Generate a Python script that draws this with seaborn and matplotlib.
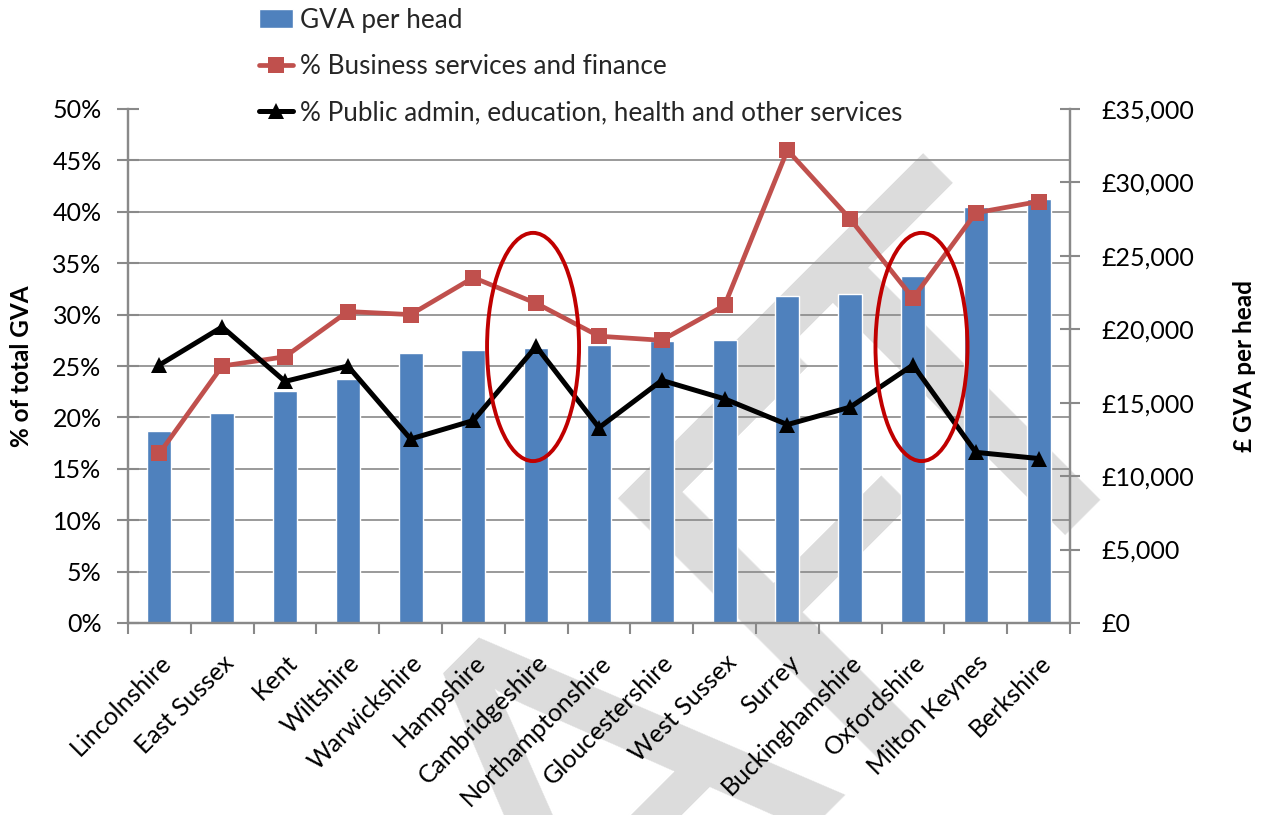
import numpy as np
import matplotlib.pyplot as plt
import seaborn as sns
from matplotlib.patches import Ellipse
from matplotlib.ticker import FixedLocator

# Counties, ordered by GVA per head
categories = ['Lincolnshire', 'East Sussex', 'Kent', 'Wiltshire', 'Warwickshire',
              'Hampshire', 'Cambridgeshire', 'Northamptonshire', 'Gloucestershire',
              'West Sussex', 'Surrey', 'Buckinghamshire', 'Oxfordshire',
              'Milton Keynes', 'Berkshire']
gva_per_head = [13100, 14300, 15800, 16600, 18400, 18600, 18750, 18950, 19200,
                19300, 22250, 22400, 23600, 28300, 28850]
business_finance_pct = [16.5, 25.0, 25.9, 30.3, 30.0, 33.6, 31.1, 27.9, 27.5,
                        30.9, 46.0, 39.3, 31.6, 39.9, 41.0]
public_services_pct = [25.1, 28.8, 23.5, 25.0, 17.9, 19.7, 26.9, 19.0, 23.6,
                       21.8, 19.3, 21.0, 25.1, 16.6, 16.0]
highlighted = ['Cambridgeshire', 'Oxfordshire']

pct_ticks = list(range(0, 51, 5))
gva_ticks = list(range(0, 35001, 5000))

sns.set_theme(style='white')
plt.rcParams['font.family'] = ['Lato', 'DejaVu Sans']

grey = '#898989'
n = len(categories)
W, H = 1265, 815

fig = plt.figure(figsize=(W / 100, H / 100), dpi=100)
ax_gva = fig.add_axes([128 / W, 1 - 623 / H, 942 / W, 514 / H])
ax_gva.patch.set_alpha(0)
ax_pct = ax_gva.twinx()

# Watermark sits behind the axes; "T" is placed on its own so the letters sit tighter
wm = dict(rotation=45, rotation_mode='anchor', ha='right', va='baseline',
          fontsize=372, color='#dcdcdc', zorder=-1)
renderer = fig.canvas.get_renderer()
probe = fig.text(0, 0, 'DRAFT', fontsize=372)
w_full = probe.get_window_extent(renderer).width
probe.set_text('DRAF')
w_t = w_full - probe.get_window_extent(renderer).width
probe.remove()
base = np.array([1205.5, 428.7])
along = np.array([1.0, 1.0]) / np.sqrt(2)
t_pos = base - 25 * along
draf_pos = base - (w_t - 71) * along
fig.text(t_pos[0] / W, t_pos[1] / H, 'T', **wm)
fig.text(draf_pos[0] / W, draf_pos[1] / H, 'DRAF', **wm)

# Bars: GVA per head on the right hand axis
sns.barplot(x=categories, y=gva_per_head, ax=ax_gva, color='#4f81bd', saturation=1,
            width=0.38, errorbar=None, label='GVA per head', legend=False)

# Lines: percentages on the left hand axis
sns.lineplot(x=list(range(n)), y=business_finance_pct, ax=ax_pct, color='#c0504d',
             linewidth=3.4, marker='s', markersize=12, markeredgewidth=0,
             label='% Business services and finance', legend=False)
sns.lineplot(x=list(range(n)), y=public_services_pct, ax=ax_pct, color='black',
             linewidth=3.6, marker='^', markersize=12, markeredgewidth=0,
             label='% Public admin, education, health and other services', legend=False)

# Red rings round the highlighted counties
ellipse_shift = [-0.05, 0.135]
for name, dx in zip(highlighted, ellipse_shift):
    ax_pct.add_patch(Ellipse((categories.index(name) + dx, 26.85), 1.465, 22.2,
                             fill=False, edgecolor='#c00000', linewidth=2.8, zorder=5))

ax_gva.set_xlim(-0.5, n - 0.5)
ax_gva.set_ylim(0, gva_ticks[-1])
ax_pct.set_ylim(0, pct_ticks[-1])

# gridlines follow the percentage ticks but live under the bars
ratio = gva_ticks[-1] / pct_ticks[-1]
ax_gva.yaxis.set_minor_locator(FixedLocator([p * ratio for p in pct_ticks[:-1]]))
ax_gva.grid(True, which='minor', axis='y', color=grey, linewidth=1.2)
ax_gva.set_axisbelow(True)

ax_gva.yaxis.tick_right()
ax_gva.yaxis.set_label_position('right')
ax_pct.yaxis.tick_left()
ax_pct.yaxis.set_label_position('left')

ax_gva.set_yticks(gva_ticks)
ax_gva.set_yticklabels([f'£{v:,}' for v in gva_ticks])
ax_pct.set_yticks(pct_ticks)
ax_pct.set_yticklabels([f'{v}%' for v in pct_ticks])

ax_gva.tick_params(axis='y', which='major', direction='inout', length=15, width=1.5,
                   color=grey, labelcolor='black', labelsize=18, pad=15)
ax_gva.tick_params(axis='y', which='minor', length=0)
ax_pct.tick_params(axis='y', direction='inout', length=16, width=1.5,
                   color=grey, labelcolor='black', labelsize=18, pad=11)

ax_gva.set_xticks(range(n))
ax_gva.set_xticklabels(categories, rotation=45, ha='right', rotation_mode='anchor')
ax_gva.set_xticks([i - 0.5 for i in range(n + 1)], minor=True)
ax_gva.tick_params(axis='x', which='major', length=0, labelsize=18, labelcolor='black', pad=20)
ax_gva.tick_params(axis='x', which='minor', bottom=True, direction='out', length=8,
                   width=1.5, color=grey)

for ax in (ax_gva, ax_pct):
    ax.spines['top'].set_visible(False)
    for side in ('left', 'right', 'bottom'):
        ax.spines[side].set_color(grey)
        ax.spines[side].set_linewidth(1.6)

ax_gva.set_xlabel('')
ax_pct.set_xlabel('')
ax_pct.set_ylabel('% of total GVA', fontsize=17.5, fontweight='bold', color='black')
ax_pct.yaxis.set_label_coords(-0.101, 0.5)
ax_gva.set_ylabel('£ GVA per head', fontsize=17.5, fontweight='bold', color='black')
ax_gva.yaxis.set_label_coords(1.173, 0.5)

handles, labels = ax_gva.get_legend_handles_labels()
h2, l2 = ax_pct.get_legend_handles_labels()
fig.legend(handles + h2, labels + l2, loc='upper left', bbox_to_anchor=(0.1966, 1.0034),
           frameon=False, fontsize=18.8, handlelength=1.3, handletextpad=0.25,
           labelspacing=0.82, borderaxespad=0)

fig.savefig('out.png', dpi=100)
